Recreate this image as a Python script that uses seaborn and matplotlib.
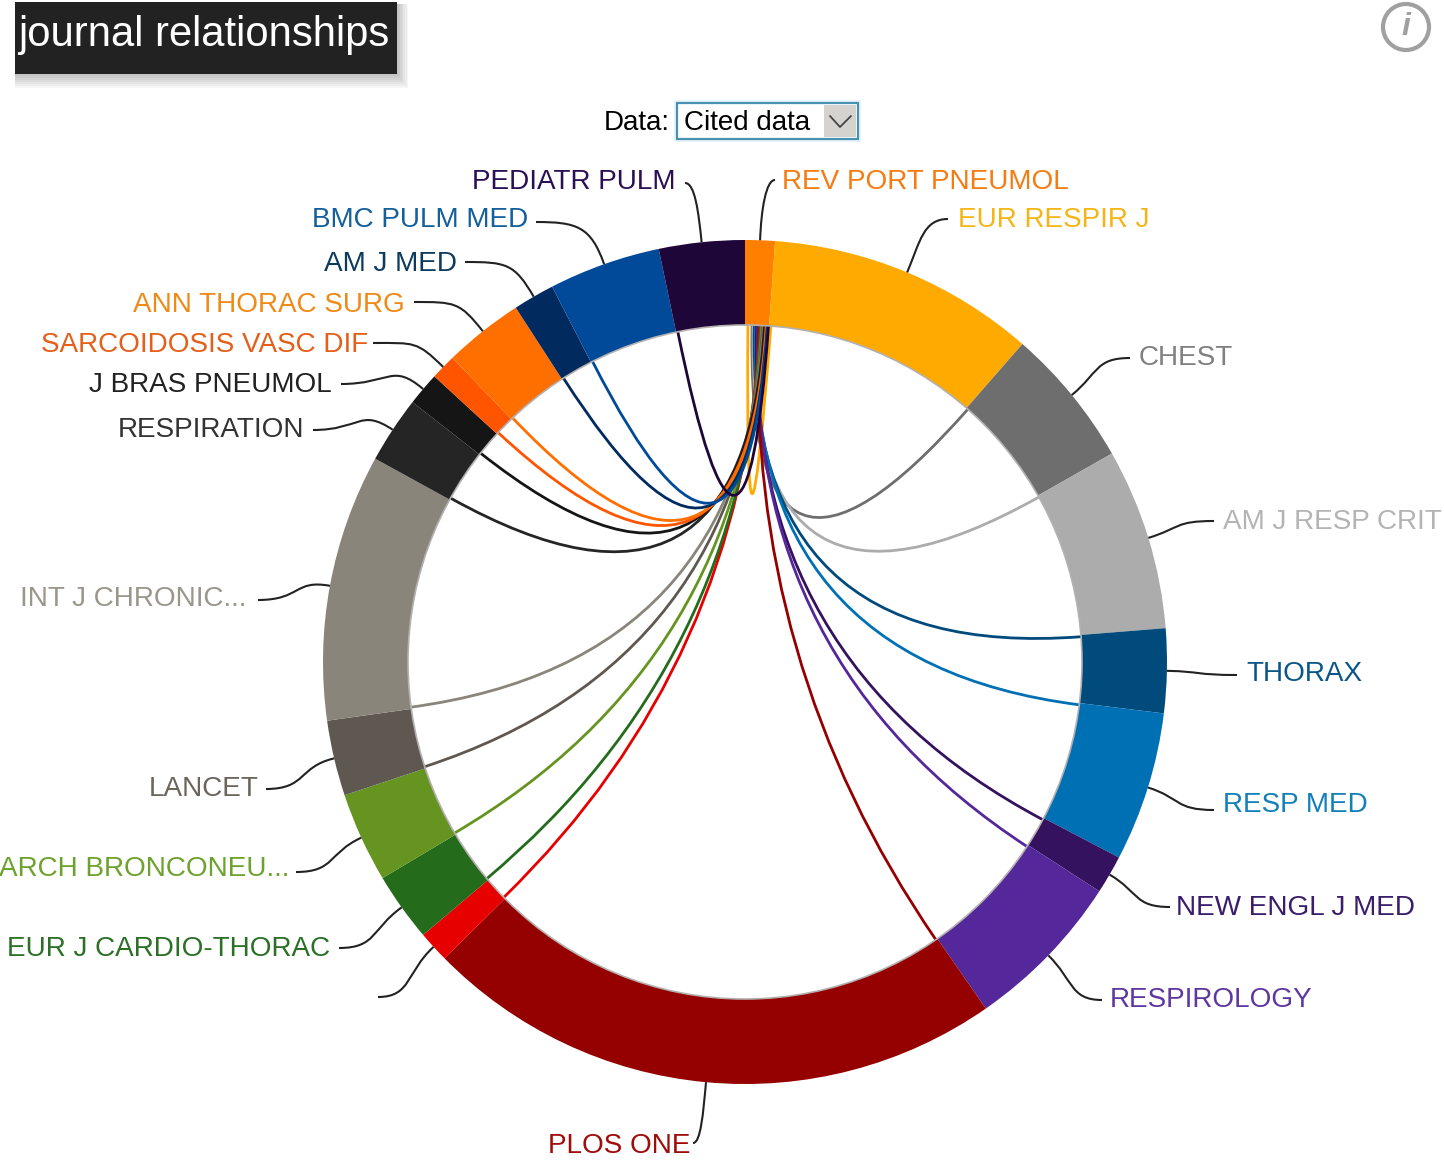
import numpy as np
import matplotlib
matplotlib.use('Agg')
import matplotlib.pyplot as plt
import seaborn as sns
from matplotlib.patches import Circle, PathPatch, Rectangle
from matplotlib.path import Path

# ─── DATA ─────────────────────────────────────────────────────────────────────

journals = [
    'REV PORT PNEUMOL', 'EUR RESPIR J', 'CHEST', 'AM J RESP CRIT', 'THORAX',
    'RESP MED', 'NEW ENGL J MED', 'RESPIROLOGY', 'PLOS ONE', '',
    'EUR J CARDIO-THORAC', 'ARCH BRONCONEU...', 'LANCET', 'INT J CHRONIC...',
    'RESPIRATION', 'J BRAS PNEUMOL', 'SARCOIDOSIS VASC DIF', 'ANN THORAC SURG',
    'AM J MED', 'BMC PULM MED', 'PEDIATR PULM',
]

# share of the ring per journal, in degrees
cited_share = [4.1, 37.0, 19.3, 25.0, 11.6, 20.6, 5.3, 22.3, 80.2, 4.3, 9.5,
               12.4, 10.4, 36.8, 9.2, 4.6, 3.5, 11.0, 5.7, 15.4, 11.8]

# where each journal's chord lands inside the REV PORT PNEUMOL segment (degrees)
chord_target = [None, 0.5, 1.2, 1.4, 1.6, 1.8, 2.0, 2.2, 2.4, 2.55, 2.7, 2.85,
                3.0, 3.15, 3.3, 3.45, 3.6, 3.7, 3.8, 3.9, 4.0]

ring_colors = [
    '#ff7f00', '#ffaa00', '#6e6e6e', '#acacac', '#004a7c', '#0070b5', '#35125f',
    '#54279a', '#950000', '#e60000', '#256b1c', '#659520', '#5f5850', '#8a857a',
    '#252525', '#151515', '#ff5500', '#ff6f00', '#012a5f', '#004a99', '#1e0638',
]

label_colors = [
    '#f57c12', '#f5b517', '#808080', '#b4b4b4', '#0b5688', '#1380b8', '#3a1d6b',
    '#5e37a0', '#a00c0c', '#ffffff', '#2b7026', '#6ea22e', '#6b655c', '#9a968c',
    '#333333', '#222222', '#e4601a', '#ef8a17', '#0d3a5f', '#14609b', '#2a0f55',
]

# ─── LAYOUT (pixels of the picture) ───────────────────────────────────────────

W, H = 1444, 1160
CX, CY = 745, 662
R_OUT, R_IN = 422, 337

# text anchor x, text centre y, and where the leader line stops
label_x = [782, 958, 1139, 1223, 1246, 1223, 1176, 1110, 690, 0, 330, 289, 259,
           246, 304, 332, 368, 405, 457, 528, 676]
label_y = [180, 218, 356, 520, 672, 803, 906, 998, 1144, 0, 947, 867, 787, 597,
           428, 383, 343, 303, 262, 218, 180]
leader_x = [775, 948, 1130, 1214, 1237, 1214, 1170, 1102, 693, 378, 339, 296,
            266, 258, 313, 341, 373, 414, 465, 536, 685]
leader_y = [180, 219, 358, 521, 675, 810, 907, 1000, 1143, 997, 948, 872, 789,
            600, 430, 384, 343, 302, 262, 222, 183]

FONT = 'Liberation Sans'
LABEL_SIZE = 20.1


def ring_xy(angle, radius):
    """Picture coordinates for a clockwise-from-top angle in degrees."""
    a = np.radians(angle)
    return CX + radius * np.sin(a), CY - radius * np.cos(a)


# ─── FIGURE ───────────────────────────────────────────────────────────────────

sns.set_theme(style='white')
palette = sns.color_palette(ring_colors)

fig = plt.figure(figsize=(W / 100, H / 100), dpi=100)
ax = fig.add_axes([0, 0, 1, 1])

ax.pie(cited_share, colors=palette, radius=R_OUT, center=(CX, CY),
       startangle=-90, counterclock=True,
       wedgeprops={'width': R_OUT - R_IN, 'linewidth': 0})
ax.set_xlim(0, W)
ax.set_ylim(H, 0)
ax.axis('off')

ax.add_patch(Circle((CX, CY), R_IN, fill=False, ec='#b5b0b0', lw=1.2, zorder=3))

seg_start = np.concatenate([[0], np.cumsum(cited_share)[:-1]])
seg_mid = seg_start + np.array(cited_share) / 2

# chords: quadratic curves pulled through the centre of the circle
for i, target in enumerate(chord_target):
    if target is None:
        continue
    p0 = ring_xy(seg_start[i] + 0.3, R_IN)
    p1 = ring_xy(target, R_IN)
    chord = Path([p0, (CX, CY), p1], [Path.MOVETO, Path.CURVE3, Path.CURVE3])
    ax.add_patch(PathPatch(chord, fill=False, ec=palette[i], lw=2.0, zorder=2))

# leader lines and labels
for i, name in enumerate(journals):
    sx, sy = ring_xy(seg_mid[i], R_OUT)
    ex, ey = leader_x[i], leader_y[i]
    d = np.hypot(ex - sx, ey - sy)
    a = np.radians(seg_mid[i])
    c1 = (sx + 0.5 * d * np.sin(a), sy - 0.5 * d * np.cos(a))
    c2 = (ex + 0.6 * (sx - ex), ey)
    leader = Path([(sx, sy), c1, c2, (ex, ey)],
                  [Path.MOVETO, Path.CURVE4, Path.CURVE4, Path.CURVE4])
    ax.add_patch(PathPatch(leader, fill=False, ec='#222222', lw=1.5, zorder=1))
    if name:
        ha = 'right' if label_x[i] < ex else 'left'
        ax.text(label_x[i], label_y[i] + 9, name, ha=ha, va='baseline',
                color=label_colors[i], fontsize=LABEL_SIZE, family=FONT)

# ─── PAGE FURNITURE ───────────────────────────────────────────────────────────

# title box with a soft shadow
for grow in range(14, 0, -2):
    ax.add_patch(Rectangle((15, 4), 382 + grow * 0.8, 70 + grow, fc='#000000',
                           ec='none', alpha=0.035, zorder=4))
ax.add_patch(Rectangle((15, 2), 382, 72, fc='#222222', ec='none', zorder=5))
ax.text(18, 46, 'journal relationships', color='white', fontsize=30.1, family=FONT,
        ha='left', va='baseline', zorder=6)

# info icon
ax.add_patch(Circle((1406, 27), 23, fill=False, ec='#a0a0a0', lw=3.0))
ax.text(1406, 27, 'i', color='#a0a0a0', fontsize=23, family=FONT, style='italic',
        fontweight='bold', ha='center', va='center')

# dropdown
ax.text(670, 130, 'Data:', color='black', fontsize=20, family=FONT, ha='right',
        va='baseline')
ax.add_patch(Rectangle((674, 100), 187, 42, fc='#d8eff8', ec='none', alpha=0.6))
ax.add_patch(Rectangle((677, 103), 181, 36, fc='white', ec='#4a90b0', lw=1.6))
ax.add_patch(Rectangle((824, 105), 32, 32, fc='#d5d3d0', ec='none'))
ax.plot([830, 840, 851], [116, 127, 116], color='#444444', lw=1.3)
ax.text(684, 130, 'Cited data', color='black', fontsize=20, family=FONT, ha='left',
        va='baseline')

fig.savefig('out.png', dpi=100)
